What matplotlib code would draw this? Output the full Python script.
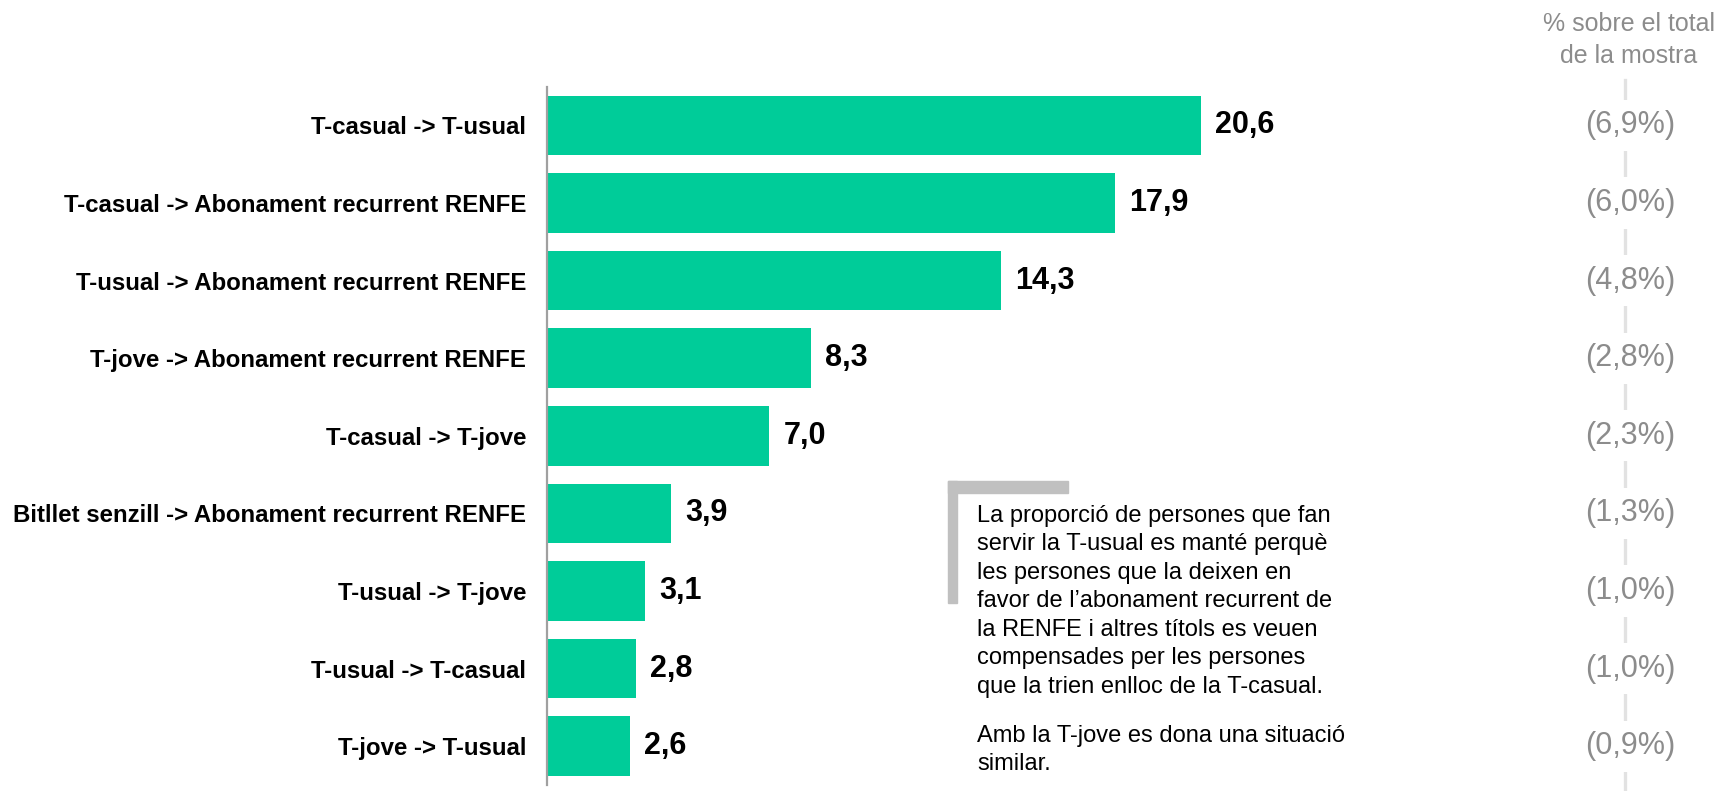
import matplotlib.pyplot as plt

# data
categories = ['T-casual -> T-usual',
              'T-casual -> Abonament recurrent RENFE',
              'T-usual -> Abonament recurrent RENFE',
              'T-jove -> Abonament recurrent RENFE',
              'T-casual -> T-jove',
              'Bitllet senzill -> Abonament recurrent RENFE',
              'T-usual -> T-jove',
              'T-usual -> T-casual',
              'T-jove -> T-usual']
values = [20.6, 17.9, 14.3, 8.3, 7.0, 3.9, 3.1, 2.8, 2.6]
share_of_sample = ['6,9', '6,0', '4,8', '2,8', '2,3', '1,3', '1,0', '1,0', '0,9']

note_1 = ("La proporció de persones que fan\n"
          "servir la T-usual es manté perquè\n"
          "les persones que la deixen en\n"
          "favor de l\u2019abonament recurrent de\n"
          "la RENFE i altres títols es veuen\n"
          "compensades per les persones\n"
          "que la trien enlloc de la T-casual.")
note_2 = "Amb la T-jove es dona una situació\nsimilar."

plt.rcParams['font.family'] = ['Liberation Sans', 'DejaVu Sans']

W, H = 1717, 791
fig = plt.figure(figsize=(W / 100, H / 100), dpi=100)
ax = fig.add_axes([547 / W, 1 - 785 / H, 952.5 / W, 698.4 / H])

ypos = list(range(len(values)))
ax.barh(ypos, values, height=0.77, color='#00cc99')
ax.set_xlim(0, 30)
ax.set_ylim(len(values) - 0.5, -0.5)

for y, v in zip(ypos, values):
    ax.text(v + 0.45, y, ('%.1f' % v).replace('.', ','), va='center', ha='left',
            fontsize=22, fontweight='bold', color='black')

ax.set_yticks(ypos)
ax.set_yticklabels(categories, fontsize=17.3, fontweight='bold')
ax.tick_params(axis='y', length=0, pad=15)
ax.set_xticks([])
for s in ['top', 'right', 'bottom']:
    ax.spines[s].set_visible(False)
ax.spines['left'].set_color('#a0a0a0')
ax.spines['left'].set_linewidth(1.6)

# right column: share of total sample
xline = (1625 - 547) / 31.75
xcol = (1630 - 547) / 31.75
ax.plot([xline, xline], [-0.58, len(values) - 0.4], color='#e2e2e2', lw=2.4,
        clip_on=False, zorder=1)
for y, s in zip(ypos, share_of_sample):
    ax.text(xcol, y, '(%s%%)' % s, ha='center', va='center', fontsize=22,
            color='#8c8c8c', clip_on=False, zorder=2,
            bbox=dict(boxstyle='square,pad=0.35', fc='white', ec='none'))
fig.text(1629 / W, 1 - 40 / H, '% sobre el total\nde la mostra', ha='center',
         va='center', fontsize=18, color='#8c8c8c', linespacing=1.4)

# annotation bracket
fig.patches.append(plt.Rectangle((948 / W, 1 - 493 / H), 120 / W, 12 / H,
                                 transform=fig.transFigure, color='#c0c0c0'))
fig.patches.append(plt.Rectangle((948 / W, 1 - 603 / H), 9 / W, 122 / H,
                                 transform=fig.transFigure, color='#c0c0c0'))
fig.text(977 / W, 1 - 505 / H, note_1, ha='left', va='top', fontsize=17,
         linespacing=1.38, color='black')
fig.text(977 / W, 1 - 725 / H, note_2, ha='left', va='top', fontsize=17,
         linespacing=1.38, color='black')

fig.savefig('out.png', dpi=100)
